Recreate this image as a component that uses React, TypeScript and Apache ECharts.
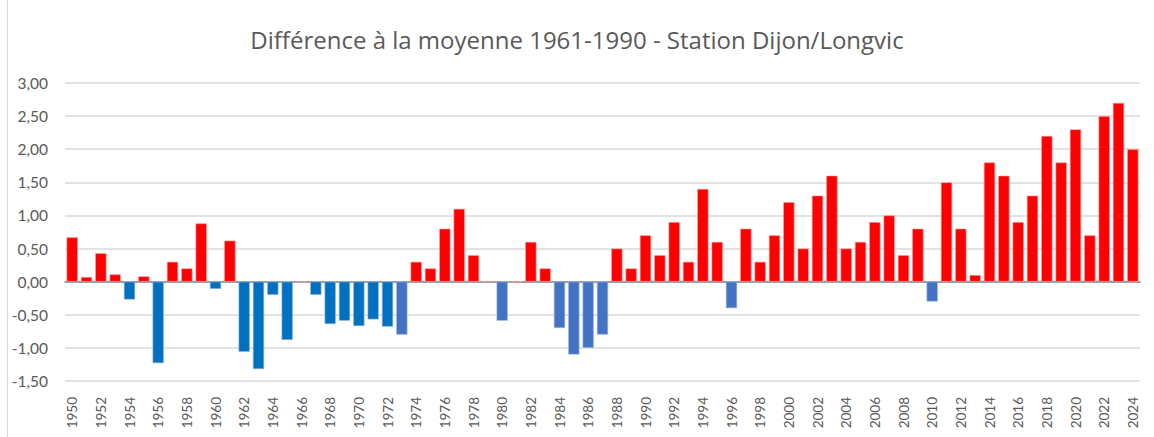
import React, { useEffect, useRef } from "react";
import * as echarts from "echarts";

const years: string[] = [];
for (let y = 1950; y <= 2024; y++) years.push(String(y));

const values: number[] = [
  0.67, 0.07, 0.43, 0.11, -0.27, 0.08, -1.23, 0.3, 0.2, 0.88,
  -0.11, 0.62, -1.06, -1.32, -0.2, -0.88, 0, -0.2, -0.64, -0.59,
  -0.67, -0.57, -0.68, -0.8, 0.3, 0.2, 0.8, 1.1, 0.4, 0,
  -0.59, 0, 0.6, 0.2, -0.7, -1.1, -1.0, -0.8, 0.5, 0.2,
  0.7, 0.4, 0.9, 0.3, 1.4, 0.6, -0.4, 0.8, 0.3, 0.7,
  1.2, 0.5, 1.3, 1.6, 0.5, 0.6, 0.9, 1.0, 0.4, 0.8,
  -0.3, 1.5, 0.8, 0.1, 1.8, 1.6, 0.9, 1.3, 2.2, 1.8,
  2.3, 0.7, 2.5, 2.7, 2.0,
];

// years whose negative bar is drawn in the lighter blue
const lightBlueYears: string[] = ["1973", "1980", "1984", "1985", "1986", "1987", "1996", "2010"];

const RED = "#FF0000";
const BLUE = "#0070C0";
const BLUE2 = "#4472C4";

export default function App() {
  const ref = useRef<HTMLDivElement>(null);
  useEffect(() => {
    document.body.style.margin = "0";
    const chart = echarts.init(ref.current!, undefined, { renderer: "svg" });
    chart.setOption({
      animation: false,
      backgroundColor: "#ffffff",
      textStyle: { fontFamily: "Lato, 'Open Sans', sans-serif" },
      title: {
        text: "Différence à la moyenne 1961-1990 - Station Dijon/Longvic",
        left: "center",
        top: 22,
        textStyle: { fontSize: 24, fontWeight: "normal", color: "#595959", fontFamily: "'Open Sans', sans-serif" },
      },
      graphic: [
        { type: "line", shape: { x1: 7.5, y1: 0, x2: 7.5, y2: 437 }, style: { stroke: "#d9d9d9", lineWidth: 1 } },
      ],
      grid: { left: 65, right: 14, top: 83, bottom: 56, containLabel: false },
      xAxis: {
        type: "category",
        data: years,
        axisLine: { onZero: true, lineStyle: { color: "#888888", width: 1.5 } },
        axisTick: { show: false },
        axisLabel: {
          rotate: 90,
          interval: 1,
          color: "#595959",
          fontSize: 13.5,
          fontFamily: "Lato, sans-serif",
          margin: 16,
        },
        position: "bottom",
      },
      yAxis: {
        type: "value",
        min: -1.5,
        max: 3,
        interval: 0.5,
        axisLine: { show: false },
        axisTick: { show: false },
        splitLine: { lineStyle: { color: "#d9d9d9", width: 1.5 } },
        axisLabel: {
          color: "#595959",
          fontSize: 15.5,
          margin: 17,
          fontFamily: "Lato, sans-serif",
          formatter: (v: number) => v.toFixed(2).replace(".", ","),
        },
      },
      series: [
        {
          type: "bar",
          barCategoryGap: "22%",
          data: values.map((v, i) => ({
            value: v,
            itemStyle: {
              color: v >= 0 ? RED : lightBlueYears.includes(years[i]) ? BLUE2 : BLUE,
              borderColor: v >= 0 ? "#ff9a9a" : "#9ab8e0",
              borderWidth: 0.6,
            },
          })),
        },
      ],
    });
    return () => chart.dispose();
  }, []);
  return <div ref={ref} style={{ width: 1154, height: 437 }} />;
}
